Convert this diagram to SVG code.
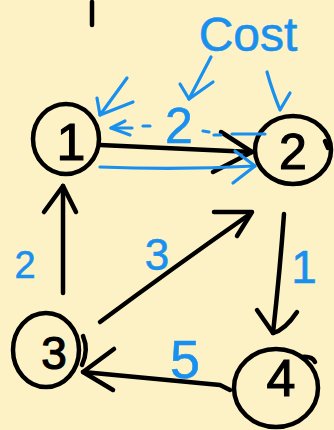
<svg xmlns="http://www.w3.org/2000/svg" width="334" height="430" viewBox="0 0 334 430">
  <style>
    .ink { fill: none; stroke: #000; stroke-width: 4.5; stroke-linecap: round; stroke-linejoin: round; }
    .pen { fill: none; stroke: #1a90ee; stroke-width: 3.2; stroke-linecap: round; stroke-linejoin: round; }
    .num { font-family: "Liberation Sans", "DejaVu Sans", sans-serif; fill: #000; stroke: #000; stroke-width: 1.2; text-anchor: middle; }
    .lbl { font-family: "Liberation Sans", "DejaVu Sans", sans-serif; fill: #1a90ee; stroke: #1a90ee; stroke-width: 0.6; text-anchor: middle; }
  </style>
  <rect width="334" height="430" fill="#fdf2c6"/>

  <!-- stray stroke at the top -->
  <path class="ink" d="M92,2 L92,25"/>

  <!-- nodes -->
  <g id="node-1">
    <ellipse class="ink" cx="66" cy="139" rx="33" ry="35"/>
    <text class="num" x="71" y="160" font-size="52">1</text>
  </g>
  <g id="node-2">
    <ellipse class="ink" cx="293" cy="150" rx="38" ry="34"/>
    <path class="ink" d="M325,141 L328,148"/>
    <text class="num" x="293" y="169" font-size="50">2</text>
  </g>
  <g id="node-3">
    <ellipse class="ink" cx="46" cy="350" rx="33" ry="37"/>
    <path class="ink" d="M83,336 Q89,350 82,365"/>
    <text class="num" x="54" y="369" font-size="46">3</text>
  </g>
  <g id="node-4">
    <ellipse class="ink" cx="276" cy="388" rx="42" ry="39"/>
    <path class="ink" d="M302,357 Q312,356 315,362"/>
    <text class="num" x="281" y="396" font-size="52">4</text>
  </g>

  <!-- connectors -->
  <g id="edges">
    <!-- 1 -> 2 -->
    <path class="ink" d="M100,145 L252,152"/>
    <path class="ink" d="M221,132 L252,152 L213,172"/>
    <!-- 3 -> 1 -->
    <path class="ink" d="M63,293 L63,186"/>
    <path class="ink" d="M44,212 L63,186 L76,212"/>
    <!-- 3 -> 2 -->
    <path class="ink" d="M100,322 Q170,270 250,214"/>
    <path class="ink" d="M214,212 L252,212 L237,236"/>
    <!-- 2 -> 4 -->
    <path class="ink" d="M284,214 Q280,270 273,333"/>
    <path class="ink" d="M257,310 L273,333 Q285,330 297,312"/>
    <!-- 4 -> 3 -->
    <path class="ink" d="M230,390 L220,385 L83,372"/>
    <path class="ink" d="M114,349 L83,372 L113,390"/>
  </g>

  <!-- cost annotations -->
  <g id="cost-notes">
    <text class="lbl" x="248" y="51" font-size="48">Cost</text>
    <path class="pen" d="M127,78 L100,115"/>
    <path class="pen" d="M97,98 L100,115 L133,102"/>
    <path class="pen" d="M211,57 L189,99"/>
    <path class="pen" d="M180,84 L189,99 L213,82"/>
    <path class="pen" d="M267,72 Q272,90 280,110 L290,93"/>

    <!-- return cost 2 -> 1, dashed -->
    <path class="pen" d="M125,121 L111,128 L130,135"/>
    <path class="pen" d="M111,128 L132,128"/>
    <path class="pen" d="M143,126 L150,126"/>
    <path class="pen" d="M203,131 L209,132"/>
    <path class="pen" d="M214,135 L221,135"/>
    <path class="pen" d="M232,134 L265,134"/>
    <text class="lbl" x="179" y="143" font-size="50">2</text>

    <!-- forward cost 1 -> 2 -->
    <path class="pen" d="M100,167 Q180,170 255,166"/>
    <path class="pen" d="M235,151 L255,166 L233,183"/>

    <text class="lbl" x="25" y="278" font-size="38">2</text>
    <text class="lbl" x="157" y="270" font-size="44">3</text>
    <text class="lbl" x="304" y="283" font-size="46">1</text>
    <text class="lbl" x="185" y="378" font-size="54">5</text>
  </g>
</svg>
